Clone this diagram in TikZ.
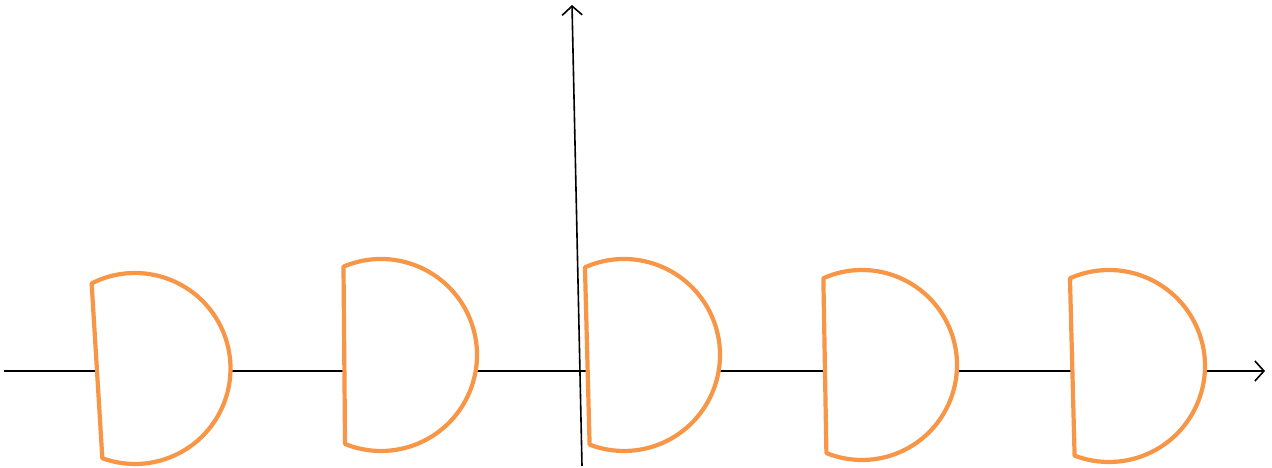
\documentclass[tikz,border=0pt]{standalone}
\usetikzlibrary{arrows.meta}
\definecolor{dorange}{HTML}{F79646}
\tikzset{
  axis/.style={line width=1.6pt, black, -{Straight Barb[length=9pt,width=20pt,line width=1.6pt]}},
  dgate/.style={draw=dorange, line width=4.2pt, fill=white, line join=round}
}
\begin{document}
\begin{tikzpicture}[x=1pt, y=1pt]
    \useasboundingbox (0,0) rectangle (1272,468);
    % axes
    \coordinate (xs) at (4,97);
    \coordinate (xe) at (1265,97);
    \coordinate (ys) at (582,2);
    \coordinate (ye) at (572,463);
    \draw[axis] (xs) -- (xe);
    \draw[axis] (ys) -- (ye);
    % five D shapes
    \draw[dgate] (135,99.5) ++(117:95.5) arc[start angle=117, end angle=-110, radius=95.5] -- cycle;
    \draw[dgate] (381,113) ++(113:96) arc[start angle=113, end angle=-112, radius=96] -- cycle;
    \draw[dgate] (624,113) ++(114:96) arc[start angle=114, end angle=-111, radius=96] -- cycle;
    \draw[dgate] (862,103) ++(114:95) arc[start angle=114, end angle=-112, radius=95] -- cycle;
    \draw[dgate] (1109,102) ++(114:96) arc[start angle=114, end angle=-111, radius=96] -- cycle;
\end{tikzpicture}
\end{document}
